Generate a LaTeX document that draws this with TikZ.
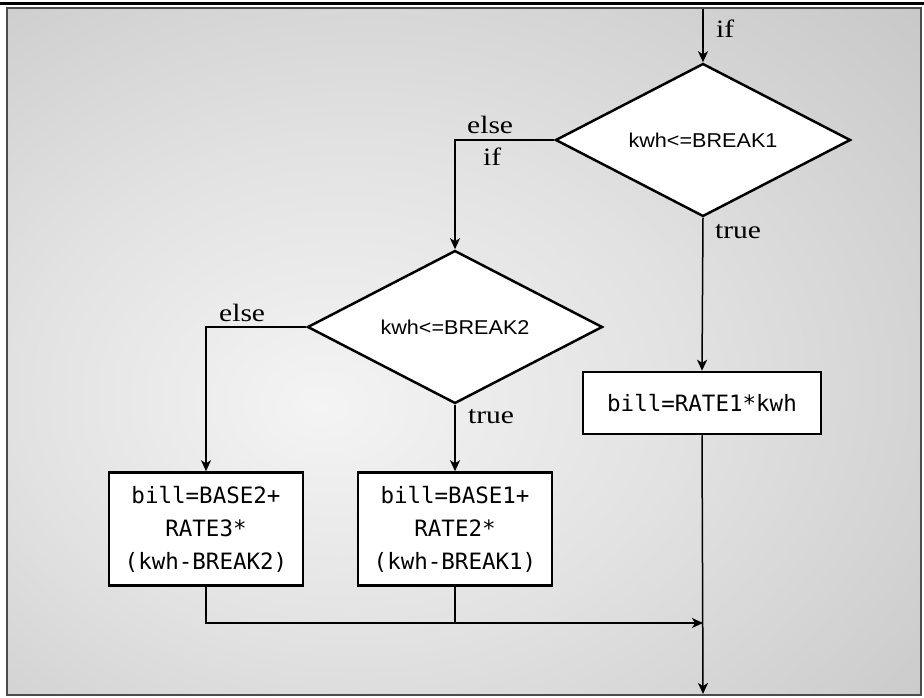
\documentclass[tikz,border=0pt]{standalone}
\usepackage{fontspec}
\setmainfont{Liberation Serif}
\newfontfamily\serifkwh[FakeStretch=1.18]{Liberation Serif}
\newfontfamily\sanskwh[FakeStretch=1.08]{Liberation Sans}
\newfontfamily\monokwh{DejaVu Sans Mono}
\usetikzlibrary{shapes.geometric,arrows.meta}

\definecolor{gris0}{HTML}{F4F4F4}
\definecolor{gris1}{HTML}{E2E2E2}
\definecolor{gris2}{HTML}{C5C5C5}
\definecolor{gris3}{HTML}{B2B2B2}
\pgfdeclareradialshading{fondgris}{\pgfpoint{-8bp}{-4bp}}{color(0bp)=(gris0); color(18bp)=(gris1); color(42bp)=(gris2); color(75bp)=(gris3)}

\tikzset{losange/.style = {diamond, draw, line width=2.5pt, fill=white, aspect=2,
                           inner sep=2pt, minimum width=295pt, minimum height=153pt,
                           font=\sanskwh\fontsize{20}{24}\selectfont},
         boite/.style = {rectangle, draw, line width=2.5pt, fill=white, align=center,
                         minimum width=#1, font=\monokwh\fontsize{22.5}{33}\selectfont},
         boite/.default=194pt,
         etiq/.style = {anchor=base west, inner sep=0pt, font=\serifkwh\fontsize{25}{30}\selectfont},
         fleche/.style = {line width=1.5pt, -{Stealth[length=11pt,width=10pt,inset=3pt]}},
         trait/.style = {line width=1.5pt}
        }

\begin{document}
\begin{tikzpicture}[x=1pt,y=1pt]
\useasboundingbox (0,0) rectangle (924,-698);
\fill[white] (0,0) rectangle (924,-698);
\draw[line width=3pt] (0,-3.5) -- (924,-3.5);
\shade[shading=fondgris] (7,-8) rectangle (921,-695);
\draw[black!70, line width=2.5pt] (7,-8) rectangle (921,-695);
\node[losange] at (703,-140) (d1) {kwh<=BREAK1};
\node[losange] at (455,-327) (d2) {kwh<=BREAK2};
\node[boite=238pt, minimum height=62pt] at (702,-403) (b1) {bill=RATE1*kwh};
\node[boite, minimum height=113pt] at (455,-529) (b2) {bill=BASE1+\\RATE2*\\(kwh-BREAK1)};
\node[boite, minimum height=113pt] at (206,-529) (b3) {bill=BASE2+\\RATE3*\\(kwh-BREAK2)};
\coordinate (haut) at (703,-9);
\coordinate (bas) at (703,-694);
\coordinate (j) at (703,-623);
\draw[fleche] (haut) -- (d1.north);
\draw[fleche] (d1.west) -| (d2.north);
\draw[fleche] (d1.south) -- (b1.north);
\draw[fleche] (d2.west) -| (b3.north);
\draw[fleche] (d2.south) -- (b2.north);
\draw[fleche] (b3.south) |- (j);
\draw[trait] (b2.south) -- (b2.south |- j);
\draw[fleche] (b1.south) -- (bas);
\node[etiq] at (716,-38) (sif) {if};
\node[etiq] at (467,-134) (selse1) {else};
\node[etiq] at (483,-166) (sif2) {if};
\node[etiq] at (715,-238) (strue1) {true};
\node[etiq] at (219,-321) (selse2) {else};
\node[etiq] at (468,-423) (strue2) {true};
\end{tikzpicture}
\end{document}
